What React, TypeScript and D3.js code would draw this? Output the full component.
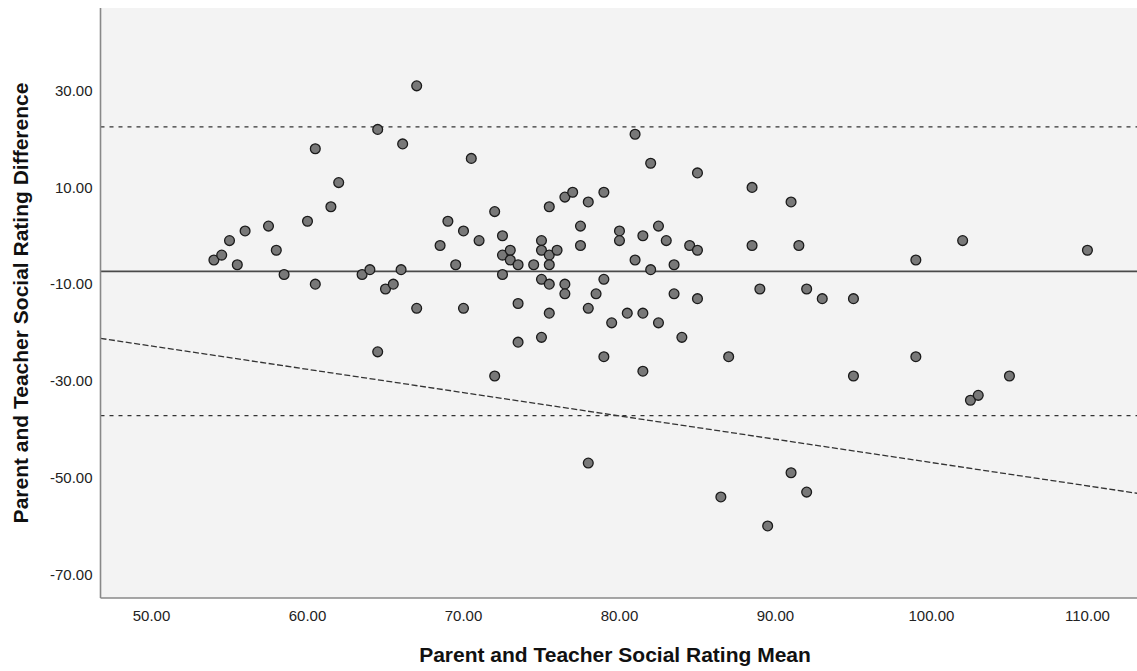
import React from "react";
import * as d3 from "d3";

// Bland-Altman: mean of parent & teacher rating vs their difference
const meanVals = [
  54, 54.5, 55, 55.5, 56, 57.5, 58, 58.5, 60, 60.5, 60.5, 61.5, 62, 63.5, 64, 64.5, 64.5, 65, 65.5, 66.1, 66,
  67, 70.5, 69, 68.5, 70, 69.5, 71, 67, 70, 72, 72.5, 72.5, 73, 73, 73.5, 72.5, 73.5, 73.5, 72, 74.5,
  75, 75, 75.5, 75.5, 76, 75.5, 76.5, 77, 78, 79, 77.5, 77.5, 75, 75.5, 76.5, 76.5, 75.5, 75, 78, 78.5,
  79, 79.5, 79, 80, 80, 81, 82, 81, 81.5, 82, 82.5, 83, 83.5, 83.5, 84.5, 85, 85, 85, 80.5, 81.5, 82.5,
  84, 81.5, 87, 88.5, 88.5, 89, 91, 91.5, 92, 93, 95, 95, 99, 99, 102, 105, 110, 78, 91, 92, 86.5, 89.5,
  102.5, 103,
];
const diffVals = [
  -5, -4, -1, -6, 1, 2, -3, -8, 3, 18, -10, 6, 11, -8, -7, 22, -24, -11, -10, 19, -7,
  31, 16, 3, -2, 1, -6, -1, -15, -15, 5, 0, -4, -3, -5, -6, -8, -14, -22, -29, -6,
  -1, -3, -4, -6, -3, 6, 8, 9, 7, 9, 2, -2, -9, -10, -10, -12, -16, -21, -15, -12,
  -9, -18, -25, 1, -1, 21, 15, -5, 0, -7, 2, -1, -6, -12, -2, -3, 13, -13, -16, -16, -18,
  -21, -28, -25, 10, -2, -11, 7, -2, -11, -13, -13, -29, -5, -25, -1, -29, -3, -47, -49, -53, -54, -60,
  -34, -33,
];

const meanDiff = -7.35;
const upperLoA = 22.5;
const lowerLoA = -37.2;
const regIntercept = 1.31;
const regSlope = -0.482;

const xTicks = [50, 60, 70, 80, 90, 100, 110];
const yTicks = [30, 10, -10, -30, -50, -70];
const xTitle = "Parent and Teacher Social Rating Mean";
const yTitle = "Parent and Teacher Social Rating Difference";

const W = 1137;
const H = 671;
const left = 100.5;
const right = 1140;
const top = 8;
const bottom = 598;

export default function App() {
  const x = d3.scaleLinear().domain([46.73, 113.37]).range([left, right]);
  const y = d3.scaleLinear().domain([-74.9, 47.1]).range([bottom, top]);
  const xd = x.domain();
  const font = "'Liberation Sans', Arial, Helvetica, sans-serif";
  const points = meanVals.map((m, i) => ({ m, d: diffVals[i] }));

  return (
    <svg width={W} height={H} style={{ position: "absolute", left: 0, top: 0, display: "block" }}>
      <rect x={0} y={0} width={W} height={H} fill="#ffffff" />
      <rect x={left} y={top} width={right - left} height={bottom - top} fill="#f3f3f3" />

      {/* limits of agreement */}
      <line x1={left} x2={right} y1={y(upperLoA)} y2={y(upperLoA)} stroke="#333" strokeWidth={1.3} strokeDasharray="4,5" />
      <line x1={left} x2={right} y1={y(lowerLoA)} y2={y(lowerLoA)} stroke="#333" strokeWidth={1.3} strokeDasharray="4,5" />
      <line x1={left} x2={right} y1={y(meanDiff)} y2={y(meanDiff)} stroke="#4a4a4a" strokeWidth={1.7} />
      {/* regression line */}
      <line
        x1={x(xd[0])}
        x2={x(xd[1])}
        y1={y(regIntercept + regSlope * xd[0])}
        y2={y(regIntercept + regSlope * xd[1])}
        stroke="#333"
        strokeWidth={1.3}
        strokeDasharray="6,2.5"
      />

      {points.map((p, i) => (
        <circle key={i} cx={x(p.m)} cy={y(p.d)} r={4.9} fill="#787878" stroke="#1a1a1a" strokeWidth={1.3} />
      ))}

      {/* axes */}
      <line x1={left} x2={left} y1={top} y2={bottom} stroke="#888" strokeWidth={1.6} />
      <line x1={left} x2={right} y1={bottom} y2={bottom} stroke="#888" strokeWidth={1.6} />

      {yTicks.map((t) => (
        <text key={t} x={92.5} y={y(t)} dy="0.35em" textAnchor="end" fontFamily={font} fontSize={15} fill="#222">
          {t.toFixed(2)}
        </text>
      ))}
      {xTicks.map((t) => (
        <text key={t} x={x(t)} y={621} textAnchor="middle" fontFamily={font} fontSize={15} fill="#222">
          {t.toFixed(2)}
        </text>
      ))}

      <text x={615} y={662} textAnchor="middle" fontFamily={font} fontSize={21} fontWeight="bold" fill="#111">
        {xTitle}
      </text>
      <text
        transform={`translate(28,${(top + bottom) / 2}) rotate(-90)`}
        textAnchor="middle"
        fontFamily={font}
        fontSize={21}
        fontWeight="bold"
        fill="#111"
      >
        {yTitle}
      </text>
    </svg>
  );
}
